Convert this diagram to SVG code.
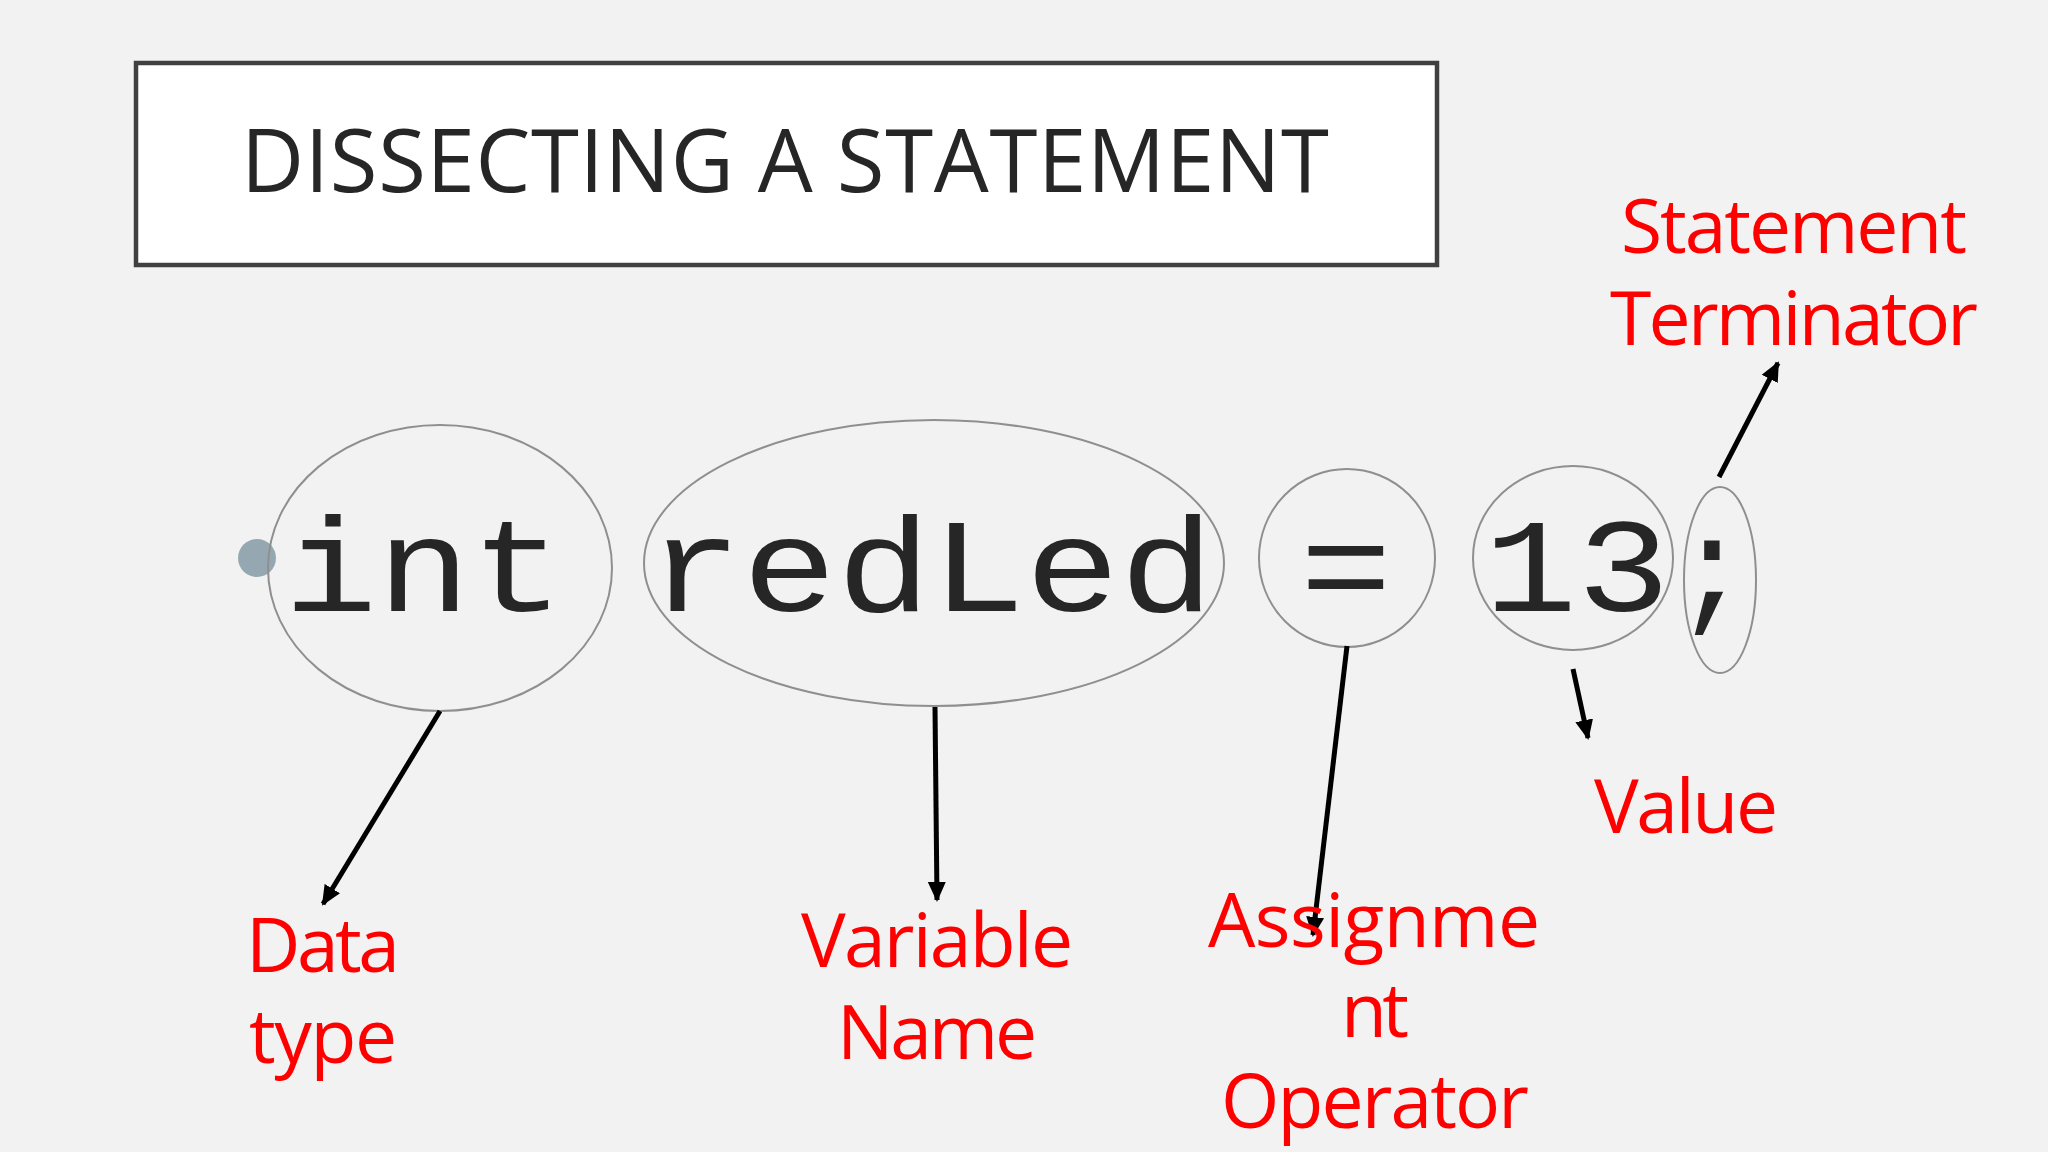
<svg xmlns="http://www.w3.org/2000/svg" width="2048" height="1152" viewBox="0 0 2048 1152">
<style>
.code{font-family:"Liberation Mono","Courier New",monospace;font-size:134px;fill:#262626;text-anchor:middle}
.ring{fill:none;stroke:#8f8f8f;stroke-width:2}
.lbl{font-family:"Open Sans","Noto Sans","Liberation Sans",sans-serif;font-size:75px;fill:#ff0000;text-anchor:middle}
.arr{stroke:#000;stroke-width:5;fill:none;marker-end:url(#ah)}
</style>
<defs>
<marker id="ah" markerUnits="userSpaceOnUse" markerWidth="20" markerHeight="20" viewBox="0 0 20 20" refX="18" refY="10" orient="auto">
<path d="M0,1 L20,10 L0,19 Z" fill="#000"/>
</marker>
</defs>
<rect width="2048" height="1152" fill="#f2f2f2"/>
<g id="title">
<rect x="136" y="63" width="1301" height="202" fill="#ffffff" stroke="#404040" stroke-width="4.5"/>
<text x="785" y="192" font-family="'Open Sans','Noto Sans',sans-serif" font-size="87" fill="#262626" text-anchor="middle" textLength="1088" lengthAdjust="spacing">DISSECTING A STATEMENT</text>
</g>
<g id="bullet"><circle cx="257" cy="558" r="19" fill="#95a8b1"/></g>
<g id="node-int">
<ellipse class="ring" cx="440" cy="568" rx="172" ry="143"/>
<text class="code" x="424" y="611" textLength="280" lengthAdjust="spacingAndGlyphs">int</text>
</g>
<g id="node-redLed">
<ellipse class="ring" cx="934" cy="563" rx="290" ry="143"/>
<text class="code" x="931" y="611" textLength="566" lengthAdjust="spacingAndGlyphs">redLed</text>
</g>
<g id="node-eq">
<ellipse class="ring" cx="1347" cy="558" rx="88" ry="89"/>
<text class="code" x="1346" y="611" textLength="92" lengthAdjust="spacingAndGlyphs">=</text>
</g>
<g id="node-13">
<ellipse class="ring" cx="1573" cy="558" rx="100" ry="92"/>
<text class="code" x="1577" y="611" textLength="186" lengthAdjust="spacingAndGlyphs">13</text>
</g>
<g id="node-semi">
<ellipse class="ring" cx="1720" cy="580" rx="36" ry="93"/>
<text class="code" x="1712" y="611">;</text>
</g>
<g id="connectors">
<line class="arr" x1="440" y1="711" x2="323" y2="904"/>
<line class="arr" x1="935" y1="707" x2="937" y2="900"/>
<line class="arr" x1="1347" y1="646" x2="1313" y2="935"/>
<line class="arr" x1="1573" y1="669" x2="1588" y2="738"/>
<line class="arr" x1="1719" y1="477" x2="1778" y2="363"/>
</g>
<g id="label-datatype">
<text class="lbl" x="323" y="972" textLength="154" lengthAdjust="spacing">Data</text>
<text class="lbl" x="323" y="1063" textLength="148" lengthAdjust="spacing">type</text>
</g>
<g id="label-varname">
<text class="lbl" x="937" y="967" textLength="272" lengthAdjust="spacing">Variable</text>
<text class="lbl" x="937" y="1059" textLength="200" lengthAdjust="spacing">Name</text>
</g>
<g id="label-assign">
<text class="lbl" x="1374" y="947" textLength="332" lengthAdjust="spacing">Assignme</text>
<text class="lbl" x="1375" y="1037" textLength="68" lengthAdjust="spacing">nt</text>
<text class="lbl" x="1375" y="1128" textLength="308" lengthAdjust="spacing">Operator</text>
</g>
<g id="label-value">
<text class="lbl" x="1686" y="833" textLength="184" lengthAdjust="spacing">Value</text>
</g>
<g id="label-term">
<text class="lbl" x="1794" y="253" textLength="346" lengthAdjust="spacing">Statement</text>
<text class="lbl" x="1794" y="345" textLength="368" lengthAdjust="spacing">Terminator</text>
</g>
</svg>
